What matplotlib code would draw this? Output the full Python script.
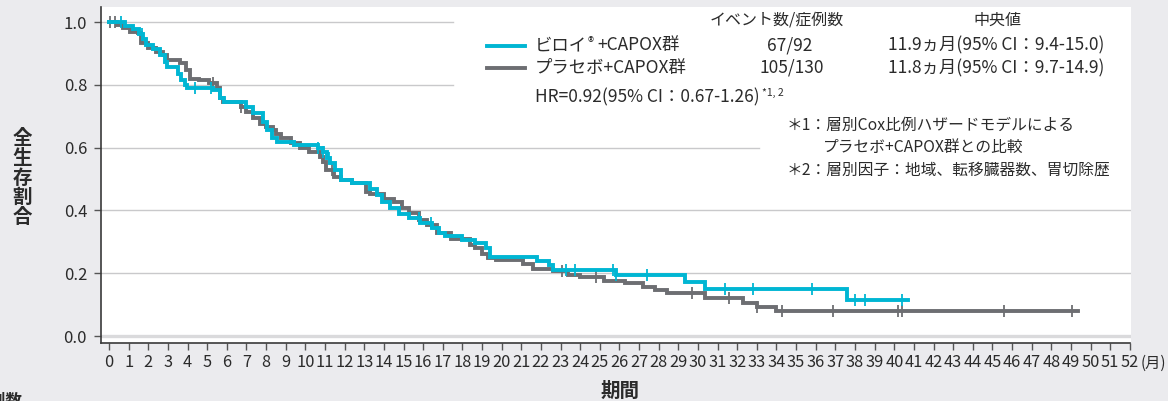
import numpy as np
import matplotlib
matplotlib.use("Agg")
import matplotlib.pyplot as plt
from matplotlib.lines import Line2D

plt.rcParams['font.family'] = ['Noto Sans CJK JP', 'DejaVu Sans']

# ---------------- data ----------------
months = list(range(0, 53))
y_ticks = [0.0, 0.2, 0.4, 0.6, 0.8, 1.0]

# Nivolumab + CAPOX (cyan): step start times and survival levels
nivo_t = [0, 0.8, 1.2, 1.55, 1.75, 1.9, 2.25, 2.6, 2.85, 2.95, 3.5, 3.65, 3.85, 3.97,
          5.3, 5.65, 5.85, 7.0, 7.35, 7.85, 8.05, 8.3, 8.55, 9.4, 10.65, 10.9, 11.1,
          11.25, 11.5, 11.8, 12.4, 13.3, 13.65, 13.9, 14.3, 14.75, 15.3, 15.85, 16.45,
          16.8, 17.1, 18.0, 18.65, 19.2, 19.4, 21.8, 22.4, 22.6, 25.85, 29.35, 30.36, 37.6]
nivo_s = [1.0, 0.989, 0.978, 0.963, 0.947, 0.926, 0.915, 0.894, 0.873, 0.857, 0.835, 0.815,
          0.80, 0.79, 0.783, 0.757, 0.746, 0.73, 0.709, 0.683, 0.656, 0.63, 0.619, 0.608,
          0.60, 0.587, 0.566, 0.55, 0.529, 0.497, 0.486, 0.47, 0.449, 0.428, 0.407, 0.39,
          0.375, 0.361, 0.343, 0.328, 0.318, 0.306, 0.295, 0.279, 0.253, 0.24, 0.226, 0.21,
          0.194, 0.171, 0.149, 0.115]
nivo_end = 40.7
nivo_censor = [0.6, 1.7, 4.4, 5.2, 10.65, 10.9, 11.2, 15.8, 16.4, 23.3, 23.75, 25.65,
               25.85, 27.4, 31.4, 32.8, 35.8, 38.0, 38.5, 40.4]

# Placebo + CAPOX (gray)
plac_t = [0, 0.4, 0.7, 1.05, 1.5, 1.65, 2.0, 2.4, 2.75, 2.95, 3.6, 3.9, 4.1, 4.6, 5.1,
          5.5, 5.65, 5.8, 6.7, 7.0, 7.35, 7.7, 8.0, 8.35, 8.5, 8.75, 9.25, 9.75, 10.2,
          10.75, 10.9, 11.05, 11.45, 11.8, 12.4, 13.1, 13.3, 14.0, 14.5, 14.9, 15.3, 15.8,
          16.2, 16.7, 17.4, 18.4, 18.65, 19.0, 19.3, 19.7, 21.1, 21.6, 22.6, 23.4, 24.0,
          25.2, 26.3, 27.2, 27.8, 28.4, 30.36, 32.3, 33.0, 34.0]
plac_s = [1.0, 0.99, 0.98, 0.969, 0.964, 0.932, 0.916, 0.905, 0.895, 0.879, 0.869, 0.847,
          0.82, 0.815, 0.805, 0.789, 0.757, 0.746, 0.73, 0.715, 0.693, 0.677, 0.667, 0.656,
          0.643, 0.63, 0.614, 0.598, 0.587, 0.571, 0.555, 0.529, 0.507, 0.497, 0.486, 0.46,
          0.454, 0.438, 0.428, 0.407, 0.391, 0.369, 0.355, 0.328, 0.308, 0.29, 0.28, 0.263,
          0.25, 0.242, 0.231, 0.215, 0.207, 0.196, 0.189, 0.176, 0.168, 0.157, 0.146, 0.136,
          0.12, 0.106, 0.093, 0.081]
plac_end = 49.35
plac_censor = [0.05, 0.3, 5.3, 6.7, 11.35, 23.05, 24.8, 29.7, 31.6, 33.0, 34.3, 36.9,
               40.2, 40.4, 45.6, 49.05]

CYAN = '#00b6d3'
GRAY = '#6d6e72'
TXT = '#2b2b2b'
BG = '#ebebee'

W, H = 1168, 401
fig = plt.figure(figsize=(W / 100, H / 100), dpi=100, facecolor=BG)


def fx(px):
    return px / W


def fy(py):
    return 1 - py / H


ax = fig.add_axes([fx(101), fy(343), fx(1131) - fx(101), fy(7) - fy(343)])
ax.set_facecolor('white')
ax.set_xlim(-0.41, 52.06)
ax.set_ylim(-0.022, 1.048)

# grid lines (interrupted by the legend box)
grid_c = '#c9c9cb'
ax.axhline(1.0, xmin=0, xmax=0.342, color=grid_c, lw=1.0, zorder=1)
ax.axhline(0.8, xmin=0, xmax=0.342, color=grid_c, lw=1.0, zorder=1)
ax.axhline(0.6, xmin=0, xmax=0.639, color=grid_c, lw=1.0, zorder=1)
ax.axhline(0.4, color=grid_c, lw=1.0, zorder=1)
ax.axhline(0.2, color=grid_c, lw=1.0, zorder=1)
ax.axhline(0.0, color='#dadadc', lw=2.4, zorder=1)


def km(t, s, end, cens, color, lw, z):
    tt = list(t) + [end]
    ss = list(s) + [s[-1]]
    ax.step(tt, ss, where='post', color=color, lw=lw, zorder=z, solid_joinstyle='miter')
    idx = np.searchsorted(np.array(t), np.array(cens), side='right') - 1
    cy = np.array(s)[idx]
    ax.plot(cens, cy, linestyle='none', marker='|', markersize=9, markeredgewidth=1.3,
            color=color, zorder=z + 0.5)


km(plac_t, plac_s, plac_end, plac_censor, GRAY, 2.8, 3)
km(nivo_t, nivo_s, nivo_end, nivo_censor, CYAN, 2.8, 4)

# axes styling
for sp in ['top', 'right']:
    ax.spines[sp].set_visible(False)
ax.spines['left'].set_color('#3a3a3a')
ax.spines['bottom'].set_color('#3a3a3a')
ax.spines['left'].set_linewidth(1.2)
ax.spines['bottom'].set_linewidth(1.2)
ax.spines['bottom'].set_bounds(-0.41, 52)

ax.set_yticks(y_ticks)
ax.set_yticklabels([f'{v:.1f}' for v in y_ticks], fontsize=12, color=TXT)
ax.set_xticks(months)
ax.set_xticklabels([str(m) for m in months], fontsize=11.8, color=TXT,
                   family=['Liberation Sans Narrow', 'Noto Sans CJK JP'])
ax.tick_params(axis='y', length=5, width=1.0, color='#555555', pad=5)
ax.tick_params(axis='x', length=5, width=1.0, color='#555555', pad=3)

# axis labels
fig.text(fx(22), fy(178), '\n'.join('全生存割合'), ha='center', va='center',
         fontsize=14, fontweight='bold', color=TXT, linespacing=1.05)
fig.text(fx(620), fy(391), '期間', ha='center', va='center', fontsize=14,
         fontweight='bold', color=TXT)
fig.text(fx(1141), fy(363), '(月)', ha='left', va='center', fontsize=11, color=TXT)
fig.text(fx(22), fy(392), '症例数', ha='right', va='top', fontsize=12,
         fontweight='bold', color=TXT)

# legend / annotation block
fs = 12.5
fig.text(fx(777), fy(20), 'イベント数/症例数', ha='center', va='center', fontsize=11.5, color=TXT)
fig.text(fx(997), fy(20), '中央値', ha='center', va='center', fontsize=11.5, color=TXT)

fig.add_artist(Line2D([fx(487), fx(525)], [fy(45.7), fy(45.7)], color=CYAN, lw=2.8))
fig.add_artist(Line2D([fx(487), fx(525)], [fy(68.3), fy(68.3)], color=GRAY, lw=2.8))

t1 = fig.text(fx(535), fy(45), 'ビロイ', ha='left', va='center', fontsize=fs, color=TXT)
ax.annotate('®', xy=(1.0, 0.62), xycoords=t1, xytext=(0.5, 0), textcoords='offset points',
            ha='left', va='center', fontsize=9, color=TXT)
ax.annotate('+CAPOX群', xy=(1.0, 0.5), xycoords=t1, xytext=(7.5, 0), textcoords='offset points',
            ha='left', va='center', fontsize=fs, color=TXT)
fig.text(fx(535), fy(68), 'プラセボ+CAPOX群', ha='left', va='center', fontsize=fs, color=TXT)

fig.text(fx(790), fy(45), '67/92', ha='center', va='center', fontsize=fs, color=TXT)
fig.text(fx(792), fy(68), '105/130', ha='center', va='center', fontsize=fs, color=TXT)
fig.text(fx(888), fy(45), '11.9ヵ月(95% CI：9.4-15.0)', ha='left', va='center', fontsize=fs, color=TXT)
fig.text(fx(888), fy(68), '11.8ヵ月(95% CI：9.7-14.9)', ha='left', va='center', fontsize=fs, color=TXT)

hr = fig.text(fx(535), fy(97), 'HR=0.92(95% CI：0.67-1.26)', ha='left', va='center',
              fontsize=fs, color=TXT)
ax.annotate('*1, 2', xy=(1.0, 0.7), xycoords=hr, xytext=(2, 0), textcoords='offset points',
            ha='left', va='center', fontsize=7.5, color=TXT)

nfs = 11.3
fig.text(fx(787), fy(125), '＊1：層別Cox比例ハザードモデルによる', ha='left', va='center',
         fontsize=nfs, color=TXT)
fig.text(fx(823), fy(147), 'プラセボ+CAPOX群との比較', ha='left', va='center',
         fontsize=nfs, color=TXT)
fig.text(fx(787), fy(170), '＊2：層別因子：地域、転移臓器数、胃切除歴', ha='left', va='center',
         fontsize=nfs, color=TXT)

fig.savefig('out.png', dpi=100, facecolor=BG)
